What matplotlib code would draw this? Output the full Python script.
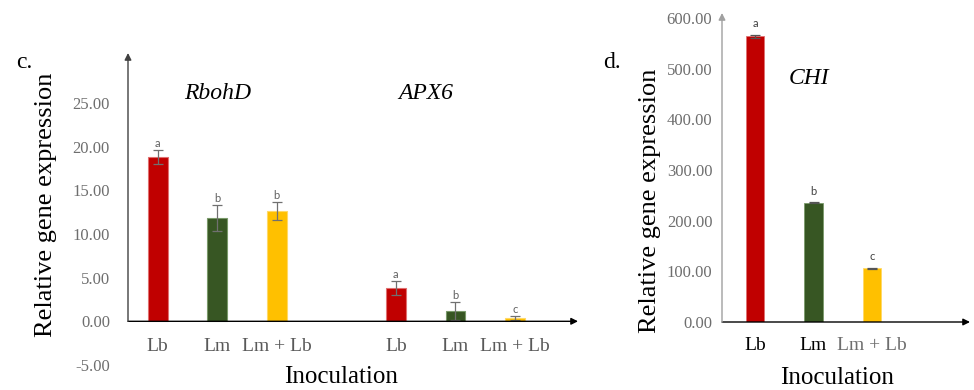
import matplotlib
matplotlib.use("Agg")
import matplotlib.pyplot as plt
import numpy as np

# ---- data ----
categories = ["Lb", "Lm", "Lm + Lb"]
genes_c = ["RbohD", "APX6"]
rbohd_mean = [18.8, 11.8, 12.6]
rbohd_err = [0.8, 1.5, 1.0]
rbohd_letters = ["a", "b", "b"]
apx6_mean = [3.8, 1.2, 0.35]
apx6_err = [0.8, 1.0, 0.25]
apx6_letters = ["a", "b", "c"]
gene_d = "CHI"
chi_mean = [564.0, 235.0, 106.0]
chi_err = [2.5, 1.0, 1.5]
chi_letters = ["a", "b", "c"]
yticks_c = [-5, 0, 5, 10, 15, 20, 25]
yticks_d = [0, 100, 200, 300, 400, 500, 600]

colors = ["#C00000", "#375623", "#FFC000"]
edge_colors = ["#E07070", "#7A9A6A", "#FFD966"]
serif = ["Liberation Serif", "DejaVu Serif"]
gray = "#6E6E6E"
dark = "#404040"

W, H = 974, 390
fig = plt.figure(figsize=(W / 100, H / 100), dpi=100)


def px_axes(x0, x1, y_top, y_bot):
    return fig.add_axes([x0 / W, 1 - y_bot / H, (x1 - x0) / W, (y_bot - y_top) / H])


def style(ax, yticks, fs, pad):
    for s in ax.spines.values():
        s.set_visible(False)
    ax.set_xticks([])
    ax.set_yticks(yticks)
    ax.set_yticklabels([f"{v:.2f}" for v in yticks], fontfamily=serif,
                       fontsize=fs, color=gray)
    ax.tick_params(axis="y", length=0, pad=pad)
    ax.patch.set_alpha(0)


# ---------------- panel c ----------------
axc = px_axes(128, 578, 53, 365)
xmin_c, xmax_c = -0.5, 7.06
ymin_c, ymax_c = -5, 30.7
axc.set_xlim(xmin_c, xmax_c)
axc.set_ylim(ymin_c, ymax_c)
style(axc, yticks_c, 12, 13)

groups = [(np.array([0, 1, 2]), rbohd_mean, rbohd_err, rbohd_letters),
          (np.array([4, 5, 6]), apx6_mean, apx6_err, apx6_letters)]
for pos, m, e, lets in groups:
    axc.bar(pos, m, width=0.33, color=colors, edgecolor=edge_colors,
            linewidth=0.8, zorder=2)
    axc.errorbar(pos, m, yerr=e, fmt="none", ecolor="#707070", elinewidth=0.9,
                 capsize=3.5, capthick=0.9, zorder=3)
    for x, mv, ev, L in zip(pos, m, e, lets):
        axc.annotate(L, (x, mv + ev), xytext=(0, 1), textcoords="offset points",
                     ha="center", va="bottom", fontsize=8, color="#606060",
                     fontfamily=["Lato", "DejaVu Sans"])
    for x, c in zip(pos, categories):
        axc.annotate(c, (x, 0), xytext=(0, -18), textcoords="offset points",
                     ha="center", va="center", fontsize=14, color="#595959",
                     fontfamily=serif, annotation_clip=False)

# axes arrows
axc.annotate("", xy=(xmax_c, 0), xytext=(xmin_c, 0),
             arrowprops=dict(arrowstyle="-|>", color="black", lw=1.0,
                             mutation_scale=10, shrinkA=0, shrinkB=0),
             annotation_clip=False, zorder=4)
axc.annotate("", xy=(xmin_c, ymax_c), xytext=(xmin_c, 0),
             arrowprops=dict(arrowstyle="-|>", color=dark, lw=1.0,
                             mutation_scale=10, shrinkA=0, shrinkB=0),
             annotation_clip=False, zorder=4)

axc.text(1, 26.1, genes_c[0], fontfamily=serif, fontstyle="italic",
         fontsize=17, ha="center", va="center")
axc.text(4.5, 26.1, genes_c[1], fontfamily=serif, fontstyle="italic",
         fontsize=17, ha="center", va="center")

fig.text(24 / W, 1 - 63 / H, "c.", fontfamily=serif, fontsize=17,
         ha="center", va="center")
fig.text(46 / W, 1 - 205 / H, "Relative gene expression", fontfamily=serif,
         fontsize=19, rotation=90, ha="center", va="center")
fig.text(341 / W, 1 - 377 / H, "Inoculation", fontfamily=serif, fontsize=18,
         ha="center", va="center")

# ---------------- panel d ----------------
axd = px_axes(722, 970, 13, 322)
xmin_d, xmax_d = -0.564, 3.675
ymin_d, ymax_d = 0, 610
axd.set_xlim(xmin_d, xmax_d)
axd.set_ylim(ymin_d, ymax_d)
style(axd, yticks_d, 12, 7)

pos_d = np.array([0, 1, 2])
axd.bar(pos_d, chi_mean, width=0.32, color=colors, edgecolor=edge_colors,
        linewidth=0.6, zorder=2)
axd.errorbar(pos_d, chi_mean, yerr=chi_err, fmt="none", ecolor="#555555",
             elinewidth=0.9, capsize=3.5, capthick=0.9, zorder=3)
for x, mv, ev, L in zip(pos_d, chi_mean, chi_err, chi_letters):
    axd.annotate(L, (x, mv + ev), xytext=(0, 4), textcoords="offset points",
                 ha="center", va="bottom", fontsize=8, color="#404040",
                 fontfamily=["Lato", "DejaVu Sans"])
cat_colors_d = ["black", "black", "#6E6E6E"]
for x, c, col in zip(pos_d, categories, cat_colors_d):
    axd.annotate(c, (x, 0), xytext=(0, -17), textcoords="offset points",
                 ha="center", va="center", fontsize=14, color=col,
                 fontfamily=serif, annotation_clip=False)

axd.annotate("", xy=(xmax_d, 0), xytext=(xmin_d, 0),
             arrowprops=dict(arrowstyle="-|>", color="black", lw=1.0,
                             mutation_scale=10, shrinkA=0, shrinkB=0),
             annotation_clip=False, zorder=4)
axd.annotate("", xy=(xmin_d, ymax_d), xytext=(xmin_d, 0),
             arrowprops=dict(arrowstyle="-|>", color="#A0A0A0", lw=1.0,
                             mutation_scale=10, shrinkA=0, shrinkB=0),
             annotation_clip=False, zorder=4)

axd.text(0.92, 480, gene_d, fontfamily=serif, fontstyle="italic",
         fontsize=17, ha="center", va="center")

fig.text(612 / W, 1 - 63 / H, "d.", fontfamily=serif, fontsize=17,
         ha="center", va="center")
fig.text(650 / W, 1 - 201 / H, "Relative gene expression", fontfamily=serif,
         fontsize=19, rotation=90, ha="center", va="center")
fig.text(837 / W, 1 - 378 / H, "Inoculation", fontfamily=serif, fontsize=18,
         ha="center", va="center")

fig.savefig("out.png", dpi=100)
